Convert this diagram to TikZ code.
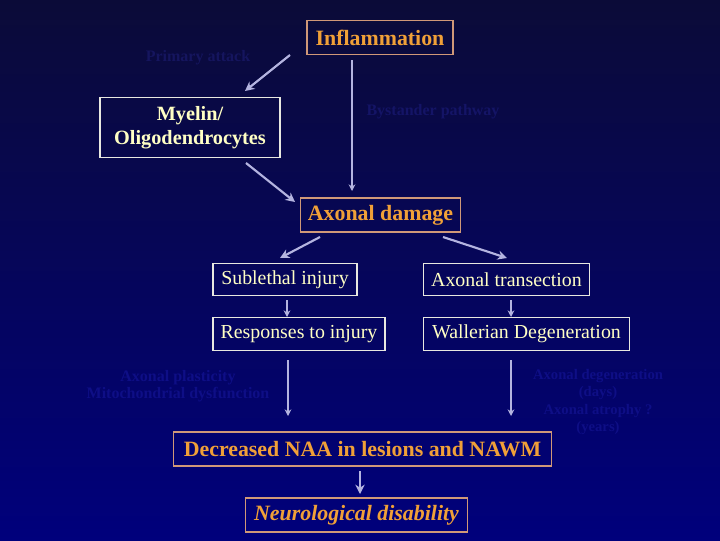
\documentclass[tikz,border=0pt]{standalone}
\usepackage{fontspec}
\setmainfont{Liberation Serif}
\usetikzlibrary{arrows.meta}
\definecolor{bgtop}{HTML}{0B0B38}
\definecolor{bgbot}{HTML}{00007C}
\definecolor{orangetxt}{HTML}{F0A038}
\definecolor{creamtxt}{HTML}{FFFFC4}
\definecolor{orangebd}{HTML}{D09878}
\definecolor{creambd}{HTML}{E8E8E0}
\definecolor{arrowc}{HTML}{B4B4E0}
\definecolor{fainttop}{HTML}{15155E}
\definecolor{faintbot}{HTML}{0E0E86}
\tikzset{
  obox/.style={draw=orangebd, line width=0.8pt, text=orangetxt, font=\fontsize{16.4}{18}\selectfont\bfseries, inner sep=3pt, minimum height=25.5pt},
  cbox/.style={draw=creambd, line width=0.8pt, text=creamtxt, font=\fontsize{14.9}{17}\selectfont, inner sep=3pt, minimum height=24.5pt},
  faintlbl/.style={text=fainttop, font=\fontsize{12}{13}\selectfont\bfseries, align=center},
  bigarrow/.style={draw=arrowc, line width=1.6pt, -{Stealth[length=7pt,width=7pt]}},
  smallarrow/.style={draw=arrowc, line width=0.9pt, -{Stealth[length=5pt,width=5pt]}}
}
\begin{document}
\begin{tikzpicture}[x=0.75pt,y=-0.75pt]
\shade[top color=bgtop, bottom color=bgbot] (0,0) rectangle (720,540);
\useasboundingbox (0,0) rectangle (720,540);

\node[obox, minimum width=109.5pt] (infl) at (380,37.5) {Inflammation};
\node[cbox, minimum width=135pt, minimum height=45.5pt, align=center, font=\fontsize{15.2}{18}\selectfont\bfseries] (myel) at (190,127.5) {Myelin/\\Oligodendrocytes};
\node[obox, minimum width=120.5pt] (axd) at (380.5,215) {Axonal damage};
\node[cbox, minimum width=108pt] (subl) at (285,279.5) {Sublethal injury};
\node[cbox, minimum width=125pt] (trans) at (506.5,279.5) {Axonal transection};
\node[cbox, minimum width=129pt] (resp) at (299,334) {Responses to injury};
\node[cbox, minimum width=155pt] (wall) at (526.5,334) {Wallerian Degeneration};
\node[obox, minimum width=283pt] (naa) at (362.5,449) {Decreased NAA in lesions and NAWM};
\node[obox, minimum width=166pt, font=\fontsize{16.4}{18}\selectfont\bfseries\itshape] (neuro) at (356.5,515) {Neurological disability};

\node[faintlbl] (prim) at (198,58) {Primary attack};
\node[faintlbl, text=fainttop!80!faintbot] (byst) at (433,112) {Bystander pathway};
\node[faintlbl, text=faintbot] (plast) at (178,386) {Axonal plasticity\\Mitochondrial dysfunction};
\node[faintlbl, text=faintbot, font=\fontsize{11}{13}\selectfont\bfseries] (atro) at (598,402) {Axonal degeneration\\(days)\\Axonal atrophy ?\\(years)};

\coordinate (p1) at (290,55);
\coordinate (p2) at (245,91);
\coordinate (b1) at (352,60);
\coordinate (b2) at (352,191);
\coordinate (m1) at (246,163);
\coordinate (m2) at (295,202);
\coordinate (l1) at (320,237);
\coordinate (l2) at (280,258);
\coordinate (r1) at (443,237);
\coordinate (r2) at (507,258);
\coordinate (s1) at (287,300);
\coordinate (s2) at (287,317);
\coordinate (t1) at (511,300);
\coordinate (t2) at (511,317);
\coordinate (q1) at (288,360);
\coordinate (q2) at (288,416);
\coordinate (w1) at (511,360);
\coordinate (w2) at (511,416);
\coordinate (n1) at (360,471);
\coordinate (n2) at (360,494);

\draw[bigarrow] (p1) -- (p2);
\draw[smallarrow] (b1) -- (b2);
\draw[bigarrow] (m1) -- (m2);
\draw[bigarrow] (l1) -- (l2);
\draw[bigarrow] (r1) -- (r2);
\draw[smallarrow] (s1) -- (s2);
\draw[smallarrow] (t1) -- (t2);
\draw[smallarrow] (q1) -- (q2);
\draw[smallarrow] (w1) -- (w2);
\draw[bigarrow] (n1) -- (n2);
\end{tikzpicture}
\end{document}
